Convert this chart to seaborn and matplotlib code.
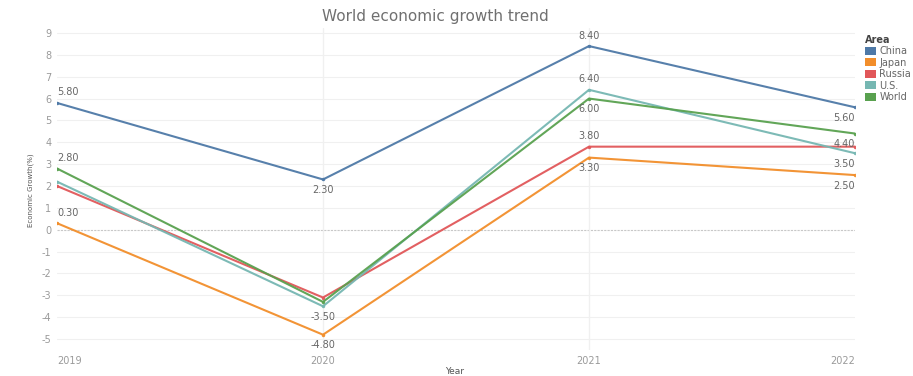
import numpy as np
import pandas as pd
import matplotlib
matplotlib.use("Agg")
import matplotlib.pyplot as plt
from matplotlib.patches import Patch
import seaborn as sns

years = [2019, 2020, 2021, 2022]
areas = ["China", "Japan", "Russia", "U.S.", "World"]
china = [5.8, 2.3, 8.4, 5.6]
japan = [0.3, -4.8, 3.3, 2.5]
russia = [2.0, -3.1, 3.8, 3.8]
us = [2.2, -3.5, 6.4, 3.5]
world = [2.8, -3.3, 6.0, 4.4]
colors = ["#4e79a7", "#f28e2b", "#e15759", "#76b7b2", "#59a14f"]

# value labels: (area, year, placement)
labels = [
    ("China", 2019, "above_left"), ("World", 2019, "above_left"), ("Japan", 2019, "above_left"),
    ("China", 2020, "below"), ("U.S.", 2020, "below"), ("Japan", 2020, "below"),
    ("China", 2021, "above"), ("U.S.", 2021, "above"), ("World", 2021, "below"),
    ("Russia", 2021, "above"), ("Japan", 2021, "below"),
    ("China", 2022, "below_right"), ("World", 2022, "below_right"),
    ("U.S.", 2022, "below_right"), ("Japan", 2022, "below_right"),
]

df = pd.DataFrame({
    "Year": years * len(areas),
    "Area": np.repeat(areas, len(years)),
    "Growth": china + japan + russia + us + world,
})

sns.set_theme(style="white")
plt.rcParams["font.family"] = ["DejaVu Sans"]
plt.rcParams["axes.unicode_minus"] = False

fig = plt.figure(figsize=(9.13, 3.76), dpi=100)
ax = fig.add_axes([57 / 913, 1 - 350 / 376, (855 - 57) / 913, (350 - 27.5) / 376])

palette = dict(zip(areas, colors))
sns.lineplot(data=df, x="Year", y="Growth", hue="Area", palette=palette,
             linewidth=1.5, marker="o", markersize=2.5, markeredgewidth=0,
             alpha=0.95, legend=False, ax=ax)

ax.set_xlim(2019, 2022)
ax.set_ylim(-5.5, 9.25)
ax.set_xticks(years)
ax.set_xticklabels([str(y) for y in years])
ax.set_yticks(range(-5, 10))
ax.get_xticklabels()[0].set_horizontalalignment("left")
ax.get_xticklabels()[-1].set_horizontalalignment("right")
ax.tick_params(axis="both", labelsize=7, colors="#9a9a9a", length=0, pad=4)
ax.set_xlabel("")
ax.set_ylabel("")

for y in range(-5, 10):
    if y == 0:
        ax.axhline(0, color="#c8c8c8", lw=0.8, ls=(0, (2, 1)), zorder=0)
    else:
        ax.axhline(y, color="#f0f0f0", lw=0.8, zorder=0)
for x in [2020, 2021]:
    ax.axvline(x, color="#f0f0f0", lw=1.0, zorder=0)
for s in ax.spines.values():
    s.set_visible(False)

lookup = {(a, yr): v for a, vals in zip(areas, [china, japan, russia, us, world])
          for yr, v in zip(years, vals)}
offsets = {
    "above": (0, 4, "center", "bottom"),
    "below": (0, -4, "center", "top"),
    "above_left": (0, 4, "left", "bottom"),
    "below_right": (0, -4, "right", "top"),
}
for area, yr, place in labels:
    v = lookup[(area, yr)]
    dx, dy, ha, va = offsets[place]
    ax.annotate(f"{v:.2f}", (yr, v), xytext=(dx, dy), textcoords="offset points",
                ha=ha, va=va, fontsize=7, color="#666666")

fig.text(435 / 913, 1 - 16 / 376, "World economic growth trend", ha="center", va="center",
         fontsize=11, color="#707070")
fig.text(455 / 913, 1 - 371 / 376, "Year", ha="center", va="center",
         fontsize=6.5, color="#555555")
fig.text(31 / 913, 1 - 190 / 376, "Economic Growth(%)", ha="center", va="center",
         rotation=90, fontsize=5, color="#555555")

handles = [Patch(facecolor=c, edgecolor="none", label=a) for a, c in zip(areas, colors)]
leg = fig.legend(handles=handles, title="Area", loc="upper left",
                 bbox_to_anchor=(858 / 913, 1 - 28 / 376), frameon=False,
                 fontsize=7, title_fontsize=7, handlelength=1.1, handleheight=0.9,
                 handletextpad=0.4, labelspacing=0.15, borderpad=0.2,
                 alignment="left")
for t in leg.get_texts():
    t.set_color("#666666")
leg.get_title().set_color("#444444")
leg.get_title().set_fontweight("bold")

fig.savefig("out.png", dpi=100)
